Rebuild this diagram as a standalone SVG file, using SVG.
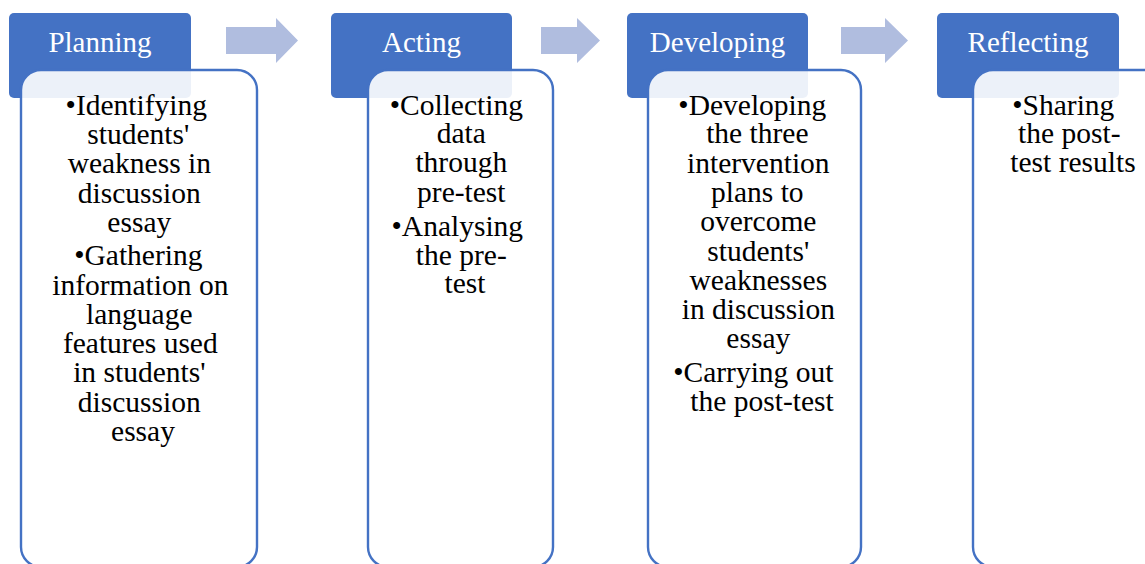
<svg xmlns="http://www.w3.org/2000/svg" width="1145" height="564" viewBox="0 0 1145 564">
<style>
.hdr{fill:#4472C4;}
.body{fill:#ffffff;fill-opacity:0.9;stroke:#4472C4;stroke-width:2.4;}
.ht{font-size:29px;fill:#ffffff;text-anchor:middle;}
.bt{font-size:29.5px;fill:#000000;text-anchor:middle;}
.arr{fill:#B0BDDF;}
</style>
<rect width="1145" height="564" fill="#ffffff"/>
<g id="connectors">
<polygon class="arr" points="226,27 276,27 276,18 298,40.5 276,63 276,54 226,54"/>
<polygon class="arr" points="541,27 577,27 577,18 600,40.5 577,63 577,54 541,54"/>
<polygon class="arr" points="841,27 885,27 885,18 908,40.5 885,63 885,54 841,54"/>
</g>
<g id="planning">
<rect class="hdr" x="9" y="13" width="182" height="85" rx="5"/>
<text class="ht" x="100" y="52" font-family="Liberation Serif">Planning</text>
<rect class="body" x="21" y="70" width="236" height="497" rx="20"/>
<text class="bt" font-family="Liberation Serif">
<tspan x="140" y="115">•Identifying</tspan>
<tspan x="142" y="144">students'</tspan>
<tspan x="143" y="173">weakness in</tspan>
<tspan x="143" y="203">discussion</tspan>
<tspan x="143" y="232">essay</tspan>
<tspan x="142" y="265">•Gathering</tspan>
<tspan x="144" y="295">information on</tspan>
<tspan x="143" y="324">language</tspan>
<tspan x="144" y="353">features used</tspan>
<tspan x="143" y="382">in students'</tspan>
<tspan x="143" y="412">discussion</tspan>
<tspan x="143" y="441">essay</tspan>
</text>
</g>
<g id="acting">
<rect class="hdr" x="331" y="13" width="181" height="85" rx="5"/>
<text class="ht" x="421.5" y="52" font-family="Liberation Serif">Acting</text>
<rect class="body" x="368" y="70" width="185" height="497" rx="20"/>
<text class="bt" font-family="Liberation Serif">
<tspan x="460" y="115">•Collecting</tspan>
<tspan x="465" y="143">data</tspan>
<tspan x="465" y="172">through</tspan>
<tspan x="465" y="202">pre-test</tspan>
<tspan x="461" y="236">•Analysing</tspan>
<tspan x="465" y="265">the pre-</tspan>
<tspan x="465" y="293">test</tspan>
</text>
</g>
<g id="developing">
<rect class="hdr" x="627" y="13" width="181" height="85" rx="5"/>
<text class="ht" x="717.5" y="52" font-family="Liberation Serif">Developing</text>
<rect class="body" x="648" y="70" width="213" height="497" rx="20"/>
<text class="bt" font-family="Liberation Serif">
<tspan x="756" y="115">•Developing</tspan>
<tspan x="761" y="143">the three</tspan>
<tspan x="762" y="173">intervention</tspan>
<tspan x="761" y="202">plans to</tspan>
<tspan x="762" y="231">overcome</tspan>
<tspan x="762" y="261">students'</tspan>
<tspan x="762" y="290">weaknesses</tspan>
<tspan x="762" y="319">in discussion</tspan>
<tspan x="762" y="348">essay</tspan>
<tspan x="757" y="382">•Carrying out</tspan>
<tspan x="762" y="411">the post-test</tspan>
</text>
</g>
<g id="reflecting">
<rect class="hdr" x="937" y="13" width="182" height="85" rx="5"/>
<text class="ht" x="1028" y="52" font-family="Liberation Serif">Reflecting</text>
<rect class="body" x="973" y="70" width="200" height="497" rx="20"/>
<text class="bt" font-family="Liberation Serif">
<tspan x="1067" y="115">•Sharing</tspan>
<tspan x="1073" y="143">the post-</tspan>
<tspan x="1073" y="172">test results</tspan>
</text>
</g>
</svg>
